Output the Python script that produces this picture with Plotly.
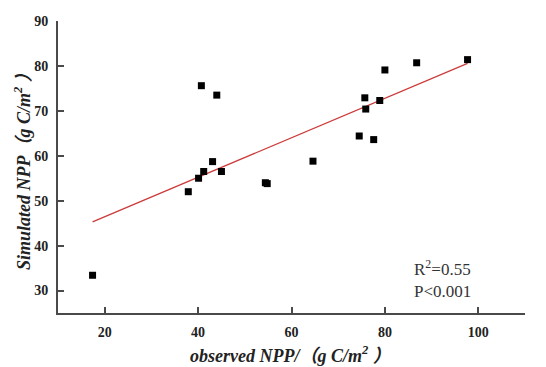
import plotly.graph_objects as go

# Observed vs simulated NPP (g C/m^2)
observed = [17.4, 37.9, 40.1, 41.2, 43.1, 45.0, 40.7, 44.0, 54.4, 54.8,
            64.6, 74.5, 77.6, 75.7, 75.9, 78.9, 80.0, 86.8, 97.7]
simulated = [33.4, 52.0, 55.0, 56.5, 58.7, 56.5, 75.6, 73.5, 54.0, 53.8,
             58.8, 64.4, 63.6, 72.9, 70.4, 72.3, 79.1, 80.7, 81.4]

# Linear fit shown on the chart
fit_slope = 0.439
fit_intercept = 37.66

x_ticks = [20, 40, 60, 80, 100]
y_ticks = [30, 40, 50, 60, 70, 80, 90]

serif = "Liberation Serif, Noto Sans CJK SC, serif"
axis_color = "#4a4a4a"

fit_x = [min(observed), max(observed)]
fit_y = [fit_intercept + fit_slope * v for v in fit_x]

fig = go.Figure()
fig.add_trace(go.Scatter(
    x=fit_x, y=fit_y, mode="lines",
    line=dict(color="#cc3b3b", width=1.3),
    showlegend=False, hoverinfo="skip",
))
fig.add_trace(go.Scatter(
    x=observed, y=simulated, mode="markers",
    marker=dict(symbol="square", size=7, color="black"),
    showlegend=False,
))

axis_common = dict(
    showgrid=False, zeroline=False,
    showline=True, linecolor=axis_color, linewidth=2,
    ticks="inside", ticklen=6, tickwidth=2, tickcolor=axis_color,
    tickfont=dict(family=serif, size=14, color="#222222"),
    ticklabelstandoff=5,
)

fig.update_layout(
    width=546, height=367,
    margin=dict(l=58, r=21, t=21, b=54),
    paper_bgcolor="white", plot_bgcolor="white",
    xaxis=dict(range=[10, 110], tickvals=x_ticks,
               ticktext=[f"<b>{v}</b>" for v in x_ticks], **axis_common),
    yaxis=dict(range=[25, 90], tickvals=y_ticks,
               ticktext=[f"<b>{v}</b>" for v in y_ticks], **axis_common),
    annotations=[
        dict(text="<b><i>observed NPP/（g C/m<sup>2</sup> ）</i></b>",
             xref="paper", yref="paper", x=0.497, y=-0.142,
             xanchor="center", yanchor="middle", showarrow=False,
             font=dict(family=serif, size=18, color="#222222")),
        dict(text="<b><i>Simulated NPP（g C/m<sup>2</sup> ）</i></b>",
             xref="paper", yref="paper", x=-0.077, y=0.5,
             xanchor="center", yanchor="middle", showarrow=False,
             textangle=-90,
             font=dict(family=serif, size=18, color="#222222")),
        dict(text="R<sup>2</sup>=0.55<br>P&lt;0.001",
             xref="paper", yref="paper", x=0.757, y=0.035,
             xanchor="left", yanchor="bottom", showarrow=False,
             align="left",
             font=dict(family=serif, size=17, color="#333333")),
    ],
)

fig.write_html("out.html")
